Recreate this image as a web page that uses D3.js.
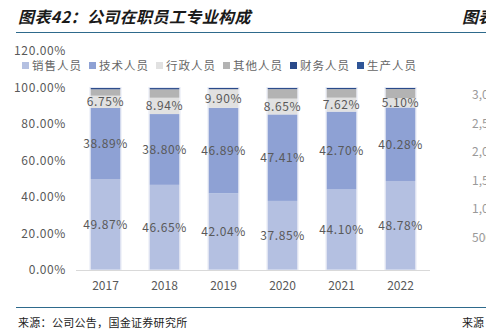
<!DOCTYPE html>
<html><head><meta charset="utf-8">
<script src="https://cdn.jsdelivr.net/npm/d3@7/dist/d3.min.js"></script>
<style>
html,body{margin:0;padding:0;background:#fff;overflow:hidden;}
svg{display:block;}
text{font-family:"Noto Sans CJK SC","DejaVu Sans",sans-serif;}
</style></head>
<body>
<svg id="c" width="486" height="333"></svg>
<script>
const years = ["2017","2018","2019","2020","2021","2022"];
const seriesNames = ["销售人员","技术人员","行政人员","其他人员","财务人员","生产人员"];
const sales   = [49.87, 46.65, 42.04, 37.85, 44.10, 48.78];
const tech    = [38.89, 38.80, 46.89, 47.41, 42.70, 40.28];
const admin   = [6.75, 8.94, 9.90, 8.65, 7.62, 5.10];
const other   = [3.50, 4.60, 0.30, 5.20, 4.70, 5.00];
const finance = [0.70, 0.70, 0.60, 0.60, 0.60, 0.60];
const prod    = [0.29, 0.31, 0.27, 0.29, 0.28, 0.24];
const yTicks  = [0, 20, 40, 60, 80, 100, 120];
const sideTicks = ["3,000","2,500","2,000","1,500","1,000","500"];

const colors = ["#b4c0e1","#8ea1d4","#e1e1e1","#b3b3b3","#2a4a8a","#2f5597"];
const labeled = [true,true,true,false,false,false];
const seriesVals = [sales, tech, admin, other, finance, prod];

const svg = d3.select("#c");
const W = 486, H = 333;

// title
svg.append("text").attr("x",18).attr("y",23)
  .attr("font-size",16).attr("font-weight","bold").attr("font-style","italic")
  .attr("fill","#1a1a1a").attr("letter-spacing","0.4px").text("图表42：公司在职员工专业构成");
svg.append("text").attr("x",462).attr("y",23)
  .attr("font-size",16).attr("font-weight","bold").attr("font-style","italic")
  .attr("fill","#1a1a1a").text("图表");
svg.append("line").attr("x1",16).attr("x2",W).attr("y1",32.5).attr("y2",32.5)
  .attr("stroke","#2e6a8c").attr("stroke-width",1.2);
svg.append("line").attr("x1",16).attr("x2",W).attr("y1",307.5).attr("y2",307.5)
  .attr("stroke","#2e6a8c").attr("stroke-width",1.2);
svg.append("text").attr("x",18).attr("y",327).attr("font-size",11)
  .attr("fill","#222").attr("letter-spacing","0.3px").text("来源：公司公告，国金证券研究所");
svg.append("text").attr("x",462).attr("y",327).attr("font-size",11)
  .attr("fill","#222").text("来源");

// scales
const x = d3.scaleBand().domain(years).range([76,430]).paddingInner(0.49).paddingOuter(0.245);
const y = d3.scaleLinear().domain([0,120]).range([270,51]);

// y axis labels
const yAxis = d3.axisLeft(y).tickValues(yTicks).tickSize(0).tickPadding(0)
  .tickFormat(d => d.toFixed(2) + "%");
const gy = svg.append("g").attr("transform","translate(66,0)").call(yAxis);
gy.select(".domain").remove();
gy.selectAll("text").attr("font-size",12).attr("fill","#595959")
  .attr("font-family","'Noto Sans CJK SC',sans-serif").attr("letter-spacing","0.6px");

// stacked data
const table = years.map((yr,i) => {
  const o = {year: yr};
  seriesNames.forEach((s,k) => o[s] = seriesVals[k][i]);
  return o;
});
const stack = d3.stack().keys(seriesNames)(table);

const g = svg.append("g");
stack.forEach((layer,k) => {
  g.selectAll(null).data(layer).enter().append("rect")
    .attr("x", d => x(d.data.year))
    .attr("width", x.bandwidth())
    .attr("y", d => y(d[1]))
    .attr("height", d => y(d[0]) - y(d[1]))
    .attr("fill", colors[k]);
});
// bar outline
g.selectAll(null).data(years).enter().append("rect")
  .attr("x", d => x(d) - 0.5).attr("width", x.bandwidth() + 1)
  .attr("y", (d,i) => y(d3.sum(seriesVals, s => s[i])))
  .attr("height", (d,i) => y(0) - y(d3.sum(seriesVals, s => s[i])))
  .attr("fill","none").attr("stroke","#e6eaf5").attr("stroke-width",1);

// data labels
stack.forEach((layer,k) => {
  if (!labeled[k]) return;
  g.selectAll(null).data(layer).enter().append("text")
    .attr("x", d => x(d.data.year) + x.bandwidth()/2)
    .attr("y", d => y((d[0]+d[1])/2))
    .attr("dy","0.36em")
    .attr("text-anchor","middle")
    .attr("font-size",12).attr("letter-spacing","0.6px")
    .attr("fill","#595959")
    .text(d => (d[1]-d[0]).toFixed(2) + "%");
});

// x axis
svg.append("line").attr("x1",76).attr("x2",430).attr("y1",270.5).attr("y2",270.5)
  .attr("stroke","#d9d9d9").attr("stroke-width",1);
svg.selectAll(null).data(years).enter().append("text")
  .attr("x", d => x(d) + x.bandwidth()/2).attr("y", 290)
  .attr("text-anchor","middle").attr("font-size",12).attr("fill","#595959")
  .attr("font-family","'Liberation Sans',Arial,sans-serif")
  .text(d => d);

// legend
let lx = 22;
const ly = 66;
seriesNames.forEach((s,k) => {
  svg.append("rect").attr("x",lx).attr("y",ly-4).attr("width",7).attr("height",7).attr("fill",colors[k]);
  const t = svg.append("text").attr("x",lx+10).attr("y",ly).attr("dy","0.36em")
    .attr("font-size",11.5).attr("letter-spacing","1px").attr("fill","#666").text(s);
  lx += 10 + t.node().getComputedTextLength() + 7;
});

// partial side axis labels from neighbouring chart
svg.selectAll(null).data(sideTicks).enter().append("text")
  .attr("x", 472).attr("y", (d,i) => 99 + i*28.5)
  .attr("font-size",12).attr("fill","#999").text(d => d);
</script>
</body></html>
